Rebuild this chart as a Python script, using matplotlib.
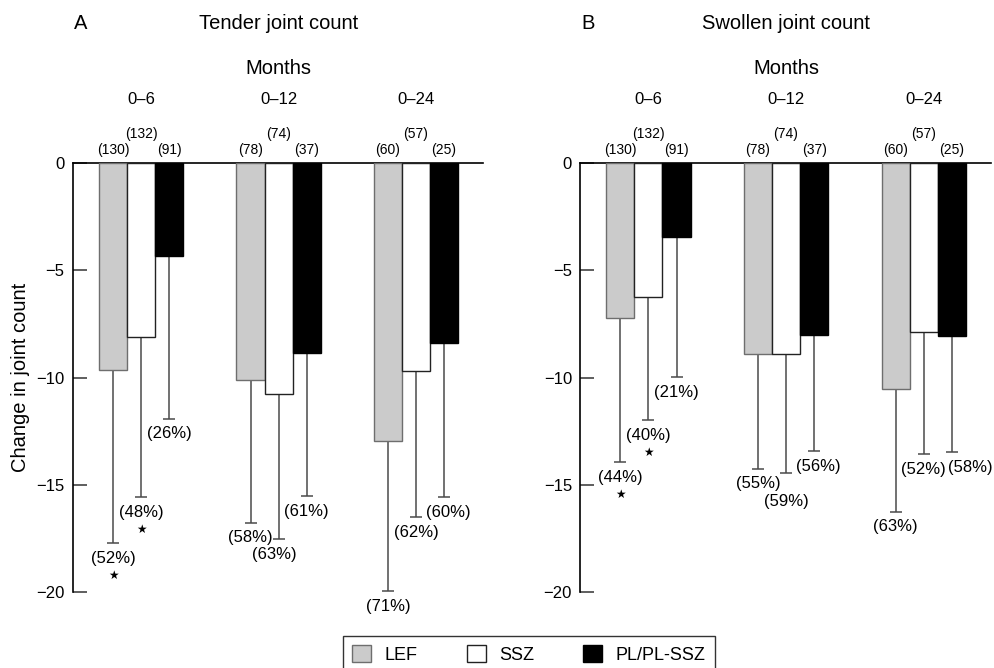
import matplotlib
matplotlib.use("Agg")
import matplotlib.pyplot as plt
import matplotlib.patches as mpatches
import numpy as np

plt.rcParams['font.family'] = ['Liberation Sans', 'DejaVu Sans']

# ---------------- data ----------------
periods = ["0\u20136", "0\u201312", "0\u201324"]
treatments = ["LEF", "SSZ", "PL/PL-SSZ"]
counts = [["(130)", "(78)", "(60)"],
          ["(132)", "(74)", "(57)"],
          ["(91)", "(37)", "(25)"]]

# Panel A: tender joint count (mean change, SD)
tender_lef = [-9.65, -10.1, -12.96]
tender_ssz = [-8.1, -10.78, -9.7]
tender_pl = [-4.35, -8.86, -8.41]
tender_lef_sd = [8.08, 6.68, 7.01]
tender_ssz_sd = [7.49, 6.75, 6.82]
tender_pl_sd = [7.58, 6.68, 7.18]
tender_pct = [["(52%)", "(58%)", "(71%)"],
              ["(48%)", "(63%)", "(62%)"],
              ["(26%)", "(61%)", "(60%)"]]
tender_star = [[True, False, False], [True, False, False], [False, False, False]]

# Panel B: swollen joint count
swollen_lef = [-7.21, -8.92, -10.52]
swollen_ssz = [-6.23, -8.92, -7.88]
swollen_pl = [-3.43, -8.0, -8.07]
swollen_lef_sd = [6.73, 5.33, 5.74]
swollen_ssz_sd = [5.77, 5.55, 5.70]
swollen_pl_sd = [6.56, 5.44, 5.42]
swollen_pct = [["(44%)", "(55%)", "(63%)"],
               ["(40%)", "(59%)", "(52%)"],
               ["(21%)", "(56%)", "(58%)"]]
swollen_star = [[True, False, False], [True, False, False], [False, False, False]]

# ---------------- style ----------------
fills = ["#cbcbcb", "white", "black"]
edges = ["#6e6e6e", "#222222", "black"]
line_col = "#4a4a4a"
W = 0.204

fig = plt.figure(figsize=(9.95, 6.68), dpi=100)
axA = fig.add_axes([73 / 995, 1 - 592 / 668, 410 / 995, 429 / 668])
axB = fig.add_axes([580.3 / 995, 1 - 592 / 668, 410.4 / 995, 429 / 668])

# pct label offsets in pixel -> points (layout tweaks)
px = 72 / 100.0
offsA = {(1, 1): (-4, 0), (2, 2): (4, 0)}
offsB = {(1, 1): (0, -13), (2, 1): (4, 0), (2, 2): (19, 0)}


def panel(ax, means, sds, pcts, stars, letter, title, offs):
    x = np.arange(len(periods))
    for i in range(3):
        xs = x + (i - 1) * W
        ax.bar(xs, means[i], width=W, color=fills[i], edgecolor=edges[i],
               linewidth=1.0, zorder=3)
        ax.errorbar(xs, means[i], yerr=[sds[i], np.zeros(3)], fmt='none',
                    ecolor=line_col, elinewidth=1.1, capsize=4.2,
                    capthick=1.1, zorder=2)
        for j in range(3):
            low = means[i][j] - sds[i][j]
            dx, dy = offs.get((i, j), (0, 0))
            ax.annotate(pcts[i][j], xy=(xs[j], low),
                        xytext=(dx * px, (-15 + dy) * px),
                        textcoords='offset points', ha='center', va='center',
                        fontsize=12, annotation_clip=False)
            if stars[i][j]:
                ax.annotate("\u2605", xy=(xs[j], low),
                            xytext=(0, (-32 + dy) * px),
                            textcoords='offset points', ha='center',
                            va='center', fontsize=8.5, family='DejaVu Sans',
                            annotation_clip=False)
            # group size labels
            ax.annotate(counts[i][j], xy=(xs[j], 0),
                        xytext=(0, (28.7 if i == 1 else 12.7) * px),
                        textcoords='offset points', ha='center', va='center',
                        fontsize=10, annotation_clip=False)
    for j, p in enumerate(periods):
        ax.annotate(p, xy=(x[j], 0), xytext=(0, 63.7 * px),
                    textcoords='offset points', ha='center', va='center',
                    fontsize=12, annotation_clip=False)
    ax.annotate("Months", xy=(x[1], 0), xytext=(0, 94.7 * px),
                textcoords='offset points', ha='center', va='center',
                fontsize=14.5, annotation_clip=False)
    ax.annotate(title, xy=(x[1], 0), xytext=(0, 139.7 * px),
                textcoords='offset points', ha='center', va='center',
                fontsize=14.5, annotation_clip=False)
    ax.annotate(letter, xy=(0, 1), xycoords='axes fraction',
                xytext=(1, 139.7 * px), textcoords='offset points',
                ha='left', va='center', fontsize=14.5, annotation_clip=False)

    ax.set_xlim(-0.495, 2.487)
    ax.set_ylim(-20, 0)
    ax.set_yticks([0, -5, -10, -15, -20])
    ax.set_yticklabels(["0", "\u22125", "\u221210", "\u221215", "\u221220"])
    ax.set_xticks([])
    for s in ["right", "bottom"]:
        ax.spines[s].set_visible(False)
    for s in ["left", "top"]:
        ax.spines[s].set_linewidth(1.2)
        ax.spines[s].set_color("black")
    ax.tick_params(axis='y', direction='in', length=10, width=1.1,
                   color="#333333", labelsize=12, pad=6)


panel(axA, [tender_lef, tender_ssz, tender_pl],
      [tender_lef_sd, tender_ssz_sd, tender_pl_sd],
      tender_pct, tender_star, "A", "Tender joint count", offsA)
panel(axB, [swollen_lef, swollen_ssz, swollen_pl],
      [swollen_lef_sd, swollen_ssz_sd, swollen_pl_sd],
      swollen_pct, swollen_star, "B", "Swollen joint count", offsB)

axA.set_ylabel("Change in joint count", fontsize=14.5)
axA.yaxis.set_label_coords(-(73 - 30) / 410, 0.5)

handles = [mpatches.Patch(facecolor=fills[i], edgecolor=edges[i],
                          linewidth=1.0, label=treatments[i]) for i in range(3)]
leg = fig.legend(handles=handles, loc='upper center',
                 bbox_to_anchor=(529 / 995, 1 - 635.5 / 668), ncol=3,
                 fontsize=13, frameon=True, fancybox=False, shadow=False,
                 handlelength=1.05, handleheight=1.05, handletextpad=0.75,
                 columnspacing=2.7, borderpad=0.55, borderaxespad=0)
leg.get_frame().set_edgecolor("black")
leg.get_frame().set_linewidth(1.0)

fig.savefig("out.png", dpi=100)
